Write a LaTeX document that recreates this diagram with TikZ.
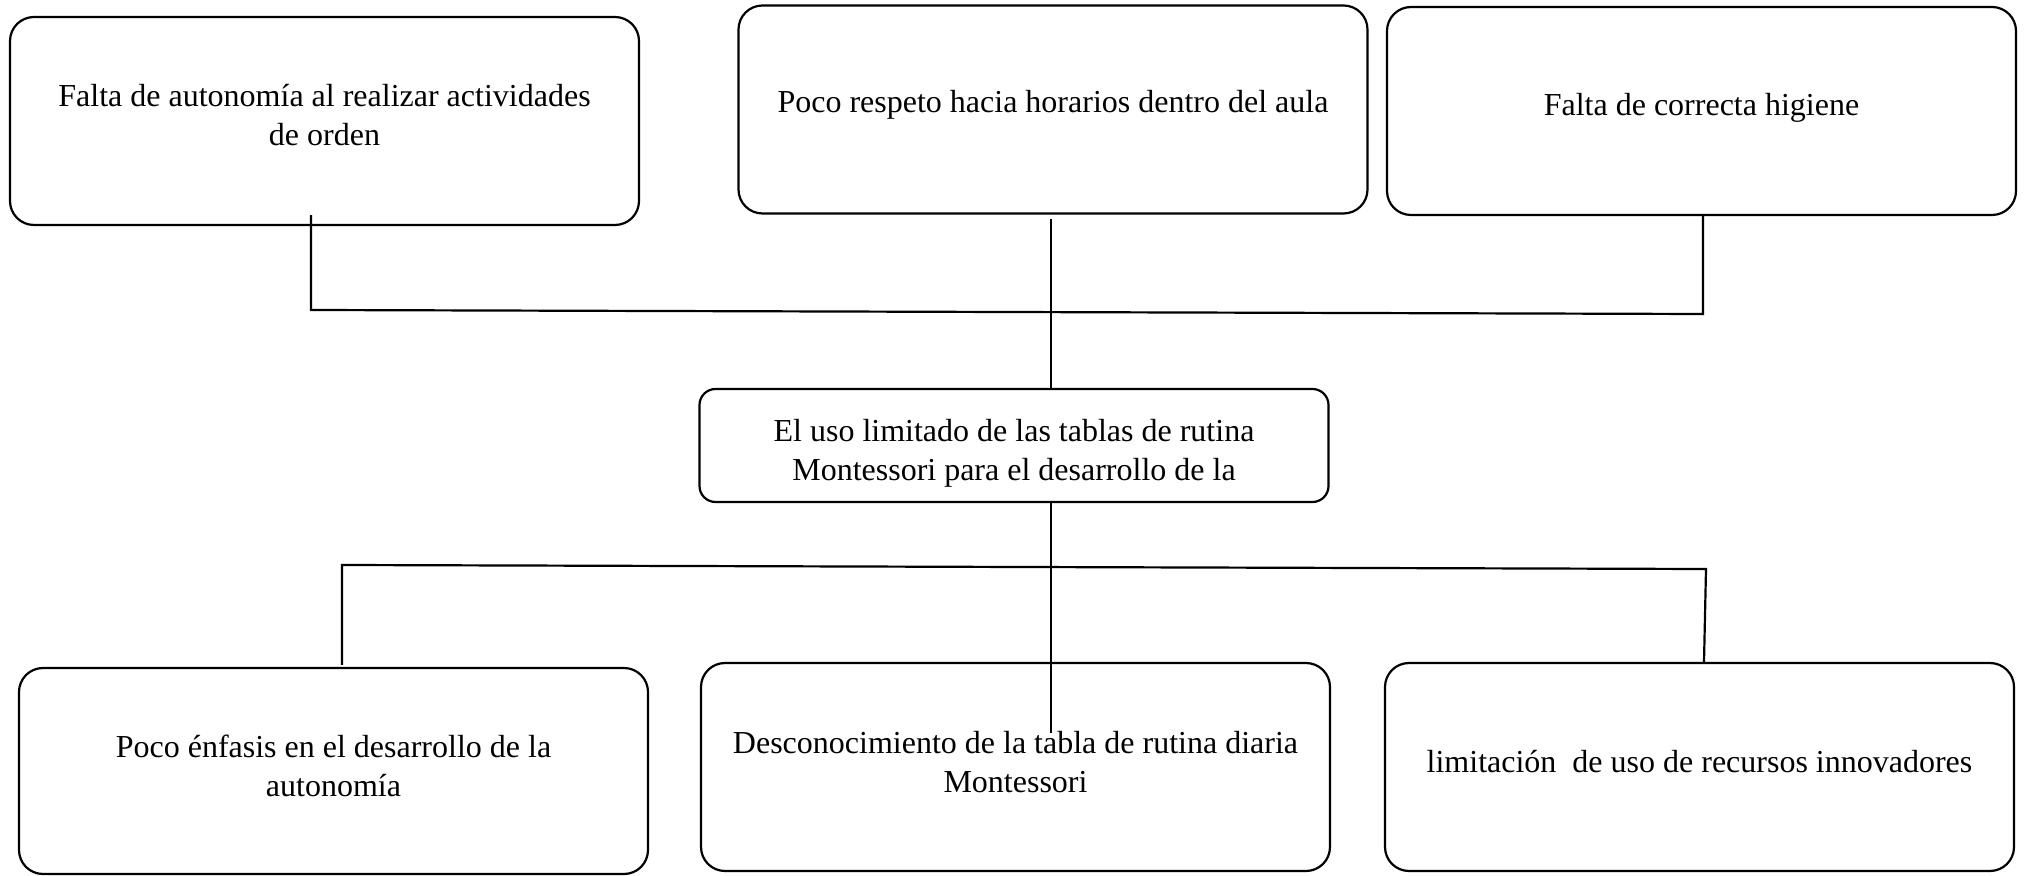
\documentclass[tikz,border=0pt]{standalone}
\usepackage{fontspec}
\setmainfont{Liberation Serif}
\usetikzlibrary{calc}
\begin{document}
\begin{tikzpicture}[x=0.5pt,y=-0.5pt,
  box/.style={draw, line width=1.1pt, rounded corners=12pt, inner sep=0pt, minimum width=314.5pt, minimum height=104pt},
  smallbox/.style={box, rounded corners=8pt, minimum height=56.5pt},
  txt/.style={align=center, inner sep=0pt, font=\fontsize{16pt}{19.5pt}\selectfont},
  conn/.style={line width=1.1pt}]
\useasboundingbox (0,0) rectangle (2024,876);
% top boxes
\node[box] (b1) at (324.5,121) {};
\node[box] (b2) at (1053,109.5) {};
\node[box] (b3) at (1701.5,111) {};
\node[txt] (b1t) at ($(b1)+(0,-6)$) {Falta de autonomía al realizar actividades\\de orden};
\node[txt] (b2t) at ($(b2)+(0,-4.5)$) {Poco respeto hacia horarios dentro del aula};
\node[txt] (b3t) at ($(b3)+(0,-3.5)$) {Falta de correcta higiene};
% centre box
\node[smallbox] (c) at (1014,445.5) {};
\node[txt] (ct) at ($(c)+(0,7.5)$) {El uso limitado de las tablas de rutina\\Montessori para el desarrollo de la};
% bottom boxes
\node[box, minimum height=103pt] (d1) at (333.5,771) {};
\node[box] (d2) at (1015.5,767) {};
\node[box] (d3) at (1699.5,767) {};
\node[txt] (d1t) at ($(d1)+(0,-5.5)$) {Poco énfasis en el desarrollo de la\\autonomía};
\node[txt] (d2t) at ($(d2)+(0,-4.5)$) {Desconocimiento de la tabla de rutina diaria\\Montessori};
\node[txt] (d3t) at ($(d3)+(0,-5)$) {limitación\ \ de uso de recursos innovadores};
% junction coordinates
\coordinate (tl) at (311,310);
\coordinate (tr) at (1703,314);
\coordinate (m) at (1051,300);
\coordinate (bl) at (342,565);
\coordinate (br) at (1706,569);
\coordinate (brb) at (1704,569);
% connectors
\draw[conn] ([yshift=5.5pt]b1.south -| tl) -- (tl) -- (tr) -- (b3.south -| tr);
\draw[conn] ([yshift=-2pt]b2.south -| m) -- (c.north -| m);
\draw[conn] (c.south -| m) -- ([yshift=-35.5pt]d2.north -| m);
\draw[conn] ([yshift=1pt]d1.north -| bl) -- (bl) -- (br) -- (d3.north -| brb);
\end{tikzpicture}
\end{document}
